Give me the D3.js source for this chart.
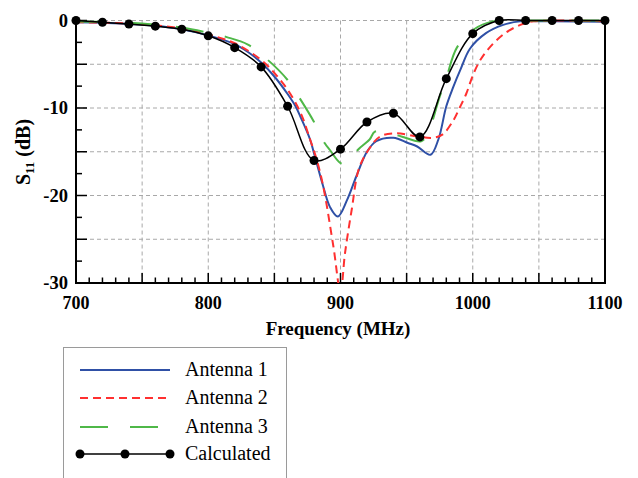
<!DOCTYPE html>
<html><head><meta charset="utf-8">
<script src="https://cdn.jsdelivr.net/npm/d3@7"></script>
<style>body{margin:0;background:#fff}svg{display:block}</style>
</head><body>
<svg id="c" width="638" height="478"></svg>
<script>
// ---- data ----
const calcFreq = [700,720,740,760,780,800,820,840,860,880,900,920,940,960,980,1000,1020,1040,1060,1080,1100];
const calcS11  = [0,-0.2,-0.4,-0.65,-1.0,-1.75,-3.1,-5.3,-9.8,-16.0,-14.7,-11.6,-10.6,-13.3,-6.65,-1.5,0,0,0,0,0];

const ant1Freq = [700,720,740,760,780,800,820,830,840,850,860,866,870,877,880,887,892,898,905,912,920,927,940,951,958,968,974,980,985,991,998,1010,1023,1036,1060,1100];
const ant1S11  = [-0.2,-0.25,-0.4,-0.6,-1.0,-1.7,-2.7,-3.6,-4.8,-6.4,-8.4,-9.8,-11.1,-13.6,-15.2,-19.0,-21.3,-22.4,-20.5,-17.8,-15.0,-13.8,-13.4,-14.0,-14.4,-15.35,-13.6,-9.8,-7.7,-5.5,-3.2,-1.45,-0.5,-0.1,-0.1,-0.15];

const ant2Freq = [700,740,780,800,820,840,850,860,870,877,882,887,894.6,900,903.4,908.5,914,922,930,942,958,970,977,985,990,995,1000,1005,1011,1023,1036,1046,1100];
const ant2S11  = [-0.2,-0.35,-0.9,-1.6,-2.6,-4.5,-6.0,-7.9,-10.6,-13.6,-15.9,-19.0,-25.8,-31.0,-26.6,-21.6,-16.9,-14.6,-13.25,-12.9,-13.25,-13.4,-13.05,-11.5,-10.0,-8.4,-6.3,-4.7,-3.4,-1.6,-0.5,-0.1,-0.1];

const ant3Freq = [700,740,780,800,814,830,845,860,869,880,888,892,900,905,913,922,926,935,946,961,966,975,980,988,1001,1015,1040,1100];
const ant3S11  = [-0.1,-0.25,-0.8,-1.4,-1.9,-2.75,-4.5,-6.8,-8.85,-11.6,-14.0,-14.8,-16.3,-16.4,-14.8,-13.6,-12.7,-12.8,-13.25,-13.8,-12.9,-8.7,-6.6,-3.1,-1.0,-0.1,0,0];

const xTicks = [700,800,900,1000,1100];
const yTicks = [0,-10,-20,-30];
const seriesNames = ["Antenna 1","Antenna 2","Antenna 3","Calculated"];

// ---- drawing ----
const svg = d3.select("#c");
const L=76, R=605, T=20.5, B=283;
const x = d3.scaleLinear().domain([700,1100]).range([L,R]);
const y = d3.scaleLinear().domain([-30,0]).range([B,T]);

svg.append("defs").append("clipPath").attr("id","clip")
  .append("rect").attr("x",L).attr("y",T-6).attr("width",R-L+6).attr("height",B-T+6);

// grid
const grid = svg.append("g").attr("stroke","#a8a8a8").attr("stroke-width",1).attr("stroke-dasharray","4,3");
d3.range(750,1100,50).forEach(f=>grid.append("line").attr("x1",x(f)).attr("x2",x(f)).attr("y1",T).attr("y2",B));
d3.range(0,-30,-5).forEach(v=>grid.append("line").attr("x1",L).attr("x2",R).attr("y1",y(v)).attr("y2",y(v)));

// axes
const ax = svg.append("g");
const xAxis = d3.axisBottom(x).tickValues(d3.range(700,1101,10)).tickSize(0).tickFormat("");
ax.append("g").attr("transform",`translate(0,${B})`).call(xAxis).select(".domain").remove();
d3.range(710,1100,10).forEach(f=>{
  const major = f%50===0;
  ax.append("line").attr("x1",x(f)).attr("x2",x(f)).attr("y1",B).attr("y2",B-(major?10:5.5))
    .attr("stroke","#000").attr("stroke-width",1.5);
});
d3.range(0,-30,-2.5).forEach(v=>{
  const major = v%5===0;
  ax.append("line").attr("x1",L).attr("x2",L+(major?11:6)).attr("y1",y(v)).attr("y2",y(v))
    .attr("stroke","#000").attr("stroke-width",1.5);
});
ax.append("path").attr("d",`M${L},${T}V${B}H${R}V${T}`).attr("fill","none").attr("stroke","#000").attr("stroke-width",2);

const lab = svg.append("g").attr("font-family","'Liberation Serif','Times New Roman',serif").attr("font-weight","bold").attr("font-size",18).attr("fill","#000");
xTicks.forEach(f=>lab.append("text").attr("x",x(f)).attr("y",309).attr("text-anchor","middle").text(f));
yTicks.forEach(v=>lab.append("text").attr("x",68).attr("y",y(v)+6).attr("text-anchor","end").attr("font-size",18.5).text(v===0?"0":"-"+Math.abs(v)));
lab.append("text").attr("x",338).attr("y",335).attr("text-anchor","middle").attr("font-size",19).text("Frequency (MHz)");
const yl = lab.append("text").attr("transform","translate(30,152) rotate(-90)").attr("text-anchor","middle").attr("font-size",20);
yl.append("tspan").text("S");
yl.append("tspan").attr("font-size",13).attr("dy",4).text("11");
yl.append("tspan").attr("dy",-4).text(" (dB)");

// lines
const line = d3.line().x(d=>x(d[0])).y(d=>y(d[1])).curve(d3.curveCatmullRom.alpha(0.5));
const plot = svg.append("g").attr("clip-path","url(#clip)");
const styles = [
  {f:ant1Freq,v:ant1S11,c:"#2f50a6",w:2,dash:null},
  {f:ant2Freq,v:ant2S11,c:"#ff3030",w:2,dash:"8,5"},
  {f:ant3Freq,v:ant3S11,c:"#4fb848",w:2,dash:"28,22"},
  {f:calcFreq,v:calcS11,c:"#000",w:1.5,dash:null}
];
styles.forEach(s=>{
  plot.append("path").datum(s.f.map((f,i)=>[f,s.v[i]])).attr("d",line)
    .attr("fill","none").attr("stroke",s.c).attr("stroke-width",s.w)
    .attr("stroke-dasharray",s.dash);
});
svg.append("g").selectAll("circle").data(calcFreq.map((f,i)=>[f,calcS11[i]])).join("circle")
  .attr("cx",d=>x(d[0])).attr("cy",d=>y(d[1])).attr("r",4.5).attr("fill","#000");

// legend
const lg = svg.append("g");
lg.append("rect").attr("x",63.5).attr("y",347.5).attr("width",223).attr("height",140)
  .attr("fill","#fff").attr("stroke","#9a9a9a").attr("stroke-width",1);
const rows = [370,398,427,454];
styles.forEach((s,i)=>{
  lg.append("line").attr("x1",80).attr("x2",170).attr("y1",rows[i]).attr("y2",rows[i])
    .attr("stroke",s.c).attr("stroke-width",s.w).attr("stroke-dasharray",s.dash);
  if(i===3){[80,125,170].forEach(cx=>lg.append("circle").attr("cx",cx).attr("cy",rows[i]).attr("r",4.5).attr("fill","#000"));}
  lg.append("text").attr("x",185).attr("y",rows[i]+6).attr("font-family","'Liberation Serif','Times New Roman',serif")
    .attr("font-size",20).attr("fill","#000").text(seriesNames[i]);
});
</script>
</body></html>
